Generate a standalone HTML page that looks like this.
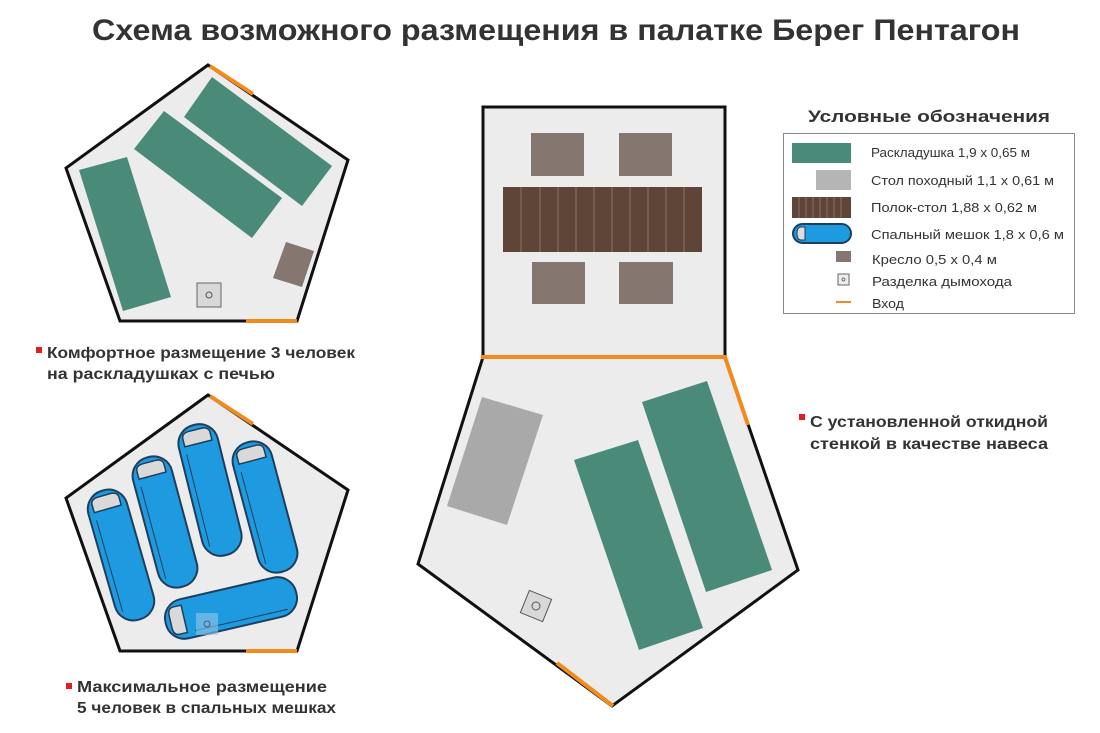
<!DOCTYPE html>
<html><head><meta charset="utf-8"><style>
html,body{margin:0;padding:0;background:#fff}
svg{display:block}
text{font-family:"Liberation Sans","DejaVu Sans",sans-serif;fill:#333}
.b{font-weight:bold}
</style></head><body>
<svg width="1100" height="733" viewBox="0 0 1100 733" xmlns="http://www.w3.org/2000/svg">
<defs>
<g id="bag">
<rect x="-20" y="-67" width="40" height="134" rx="19" fill="#1e9be0" stroke="#1d3f5c" stroke-width="2"/>
<path d="M-14,-48 L-14,-56 Q-14,-62 -6,-62 L6,-62 Q14,-62 14,-56 L14,-48 Z" fill="#d9d9d9" stroke="#1d3f5c" stroke-width="1.5"/>
<path d="M-14,-40 L-14,55" stroke="#1d3f5c" stroke-width="1" fill="none"/>
</g>
</defs>

<text x="556" y="40" class="b" font-size="30" text-anchor="middle" textLength="928" lengthAdjust="spacingAndGlyphs">Схема возможного размещения в палатке Берег Пентагон</text>

<!-- Top-left pentagon -->
<polygon points="208,65 348,160 297,321 120,321 66,168" fill="#ececec" stroke="#111" stroke-width="3" stroke-linejoin="miter"/>
<line x1="210" y1="66" x2="253" y2="94" stroke="#f28a1e" stroke-width="4"/>
<line x1="246" y1="321" x2="297" y2="321" stroke="#f28a1e" stroke-width="4"/>
<polygon points="212,77 332,166 302,206 184,117" fill="#4a8a78"/>
<polygon points="164,111 282,198 252,238 134,149" fill="#4a8a78"/>
<polygon points="79,170 127,157 171,297 123,311" fill="#4a8a78"/>
<polygon points="286,242 314,251 302,287 273,278" fill="#857670"/>
<rect x="197" y="283" width="24" height="24" fill="#d8d8d8" stroke="#666" stroke-width="1"/>
<circle cx="209" cy="295" r="3" fill="none" stroke="#555" stroke-width="1"/>

<rect x="36" y="347" width="6" height="6" fill="#e02020"/>
<text x="47" y="358" class="b" font-size="16" textLength="308" lengthAdjust="spacingAndGlyphs">Комфортное размещение 3 человек</text>
<text x="47" y="379" class="b" font-size="16" textLength="228" lengthAdjust="spacingAndGlyphs">на раскладушках с печью</text>

<!-- Bottom-left pentagon -->
<polygon points="208,395 348,490 297,651 120,651 66,498" fill="#ececec" stroke="#111" stroke-width="3"/>
<line x1="210" y1="396" x2="253" y2="424" stroke="#f28a1e" stroke-width="4"/>
<line x1="246" y1="651" x2="297" y2="651" stroke="#f28a1e" stroke-width="4"/>
<use href="#bag" transform="translate(121,555) rotate(-16)"/>
<use href="#bag" transform="translate(165,522) rotate(-15)"/>
<use href="#bag" transform="translate(210,490) rotate(-14)"/>
<use href="#bag" transform="translate(265,507) rotate(-15)"/>
<use href="#bag" transform="translate(231,608) rotate(-103)"/>
<rect x="196" y="613" width="22" height="22" fill="#8fc6e6" opacity="0.6"/>
<circle cx="207" cy="624" r="3" fill="none" stroke="#557" stroke-width="1"/>

<rect x="66" y="683" width="6" height="6" fill="#e02020"/>
<text x="77" y="692" class="b" font-size="16" textLength="250" lengthAdjust="spacingAndGlyphs">Максимальное размещение</text>
<text x="77" y="713" class="b" font-size="16" textLength="259" lengthAdjust="spacingAndGlyphs">5 человек в спальных мешках</text>

<!-- Center tent -->
<rect x="483" y="107" width="242" height="250" fill="#ececec" stroke="#111" stroke-width="3"/>
<rect x="531" y="133" width="53" height="43" fill="#857670"/>
<rect x="619" y="133" width="53" height="43" fill="#857670"/>
<rect x="532" y="262" width="53" height="42" fill="#857670"/>
<rect x="619" y="262" width="54" height="42" fill="#857670"/>
<rect x="503" y="187" width="199" height="65" fill="#5e4538"/>
<g stroke="#8a7066" stroke-width="1">
<line x1="521" y1="187" x2="521" y2="252"/><line x1="540" y1="187" x2="540" y2="252"/>
<line x1="558" y1="187" x2="558" y2="252"/><line x1="576" y1="187" x2="576" y2="252"/>
<line x1="594" y1="187" x2="594" y2="252"/><line x1="612" y1="187" x2="612" y2="252"/>
<line x1="630" y1="187" x2="630" y2="252"/><line x1="648" y1="187" x2="648" y2="252"/>
<line x1="666" y1="187" x2="666" y2="252"/><line x1="684" y1="187" x2="684" y2="252"/>
</g>
<polygon points="483,357 725,357 798,570 612,706 418,564" fill="#ececec" stroke="#111" stroke-width="3"/>
<line x1="481" y1="357" x2="727" y2="357" stroke="#f28a1e" stroke-width="4"/>
<line x1="725" y1="357" x2="748" y2="425" stroke="#f28a1e" stroke-width="4"/>
<line x1="557" y1="663" x2="613" y2="706" stroke="#f28a1e" stroke-width="4"/>
<polygon points="482,397 543,415 507,525 447,506" fill="#a9a9a9"/>
<polygon points="574,460 638,440 703,628 639,650" fill="#4a8a78"/>
<polygon points="642,402 707,381 772,570 706,592" fill="#4a8a78"/>
<rect x="524" y="594" width="24" height="24" fill="#d8d8d8" stroke="#555" stroke-width="1" transform="rotate(22 536 606)"/>
<circle cx="536" cy="606" r="4" fill="none" stroke="#555" stroke-width="1"/>

<rect x="799" y="414" width="6" height="6" fill="#e02020"/>
<text x="810" y="427" class="b" font-size="16" textLength="238" lengthAdjust="spacingAndGlyphs">С установленной откидной</text>
<text x="810" y="449" class="b" font-size="16" textLength="238" lengthAdjust="spacingAndGlyphs">стенкой в качестве навеса</text>

<!-- Legend -->
<text x="929" y="122" class="b" font-size="17" text-anchor="middle" textLength="242" lengthAdjust="spacingAndGlyphs">Условные обозначения</text>
<rect x="783.5" y="133.5" width="291" height="180" fill="#fff" stroke="#888" stroke-width="1"/>
<rect x="792" y="143" width="59" height="20" fill="#4a8a78"/>
<rect x="816" y="170" width="35" height="20" fill="#b5b5b5"/>
<rect x="792" y="197" width="59" height="21" fill="#5e4538"/>
<g stroke="#8a7066" stroke-width="1"><line x1="799" y1="197" x2="799" y2="218"/><line x1="806" y1="197" x2="806" y2="218"/><line x1="813" y1="197" x2="813" y2="218"/><line x1="820" y1="197" x2="820" y2="218"/><line x1="827" y1="197" x2="827" y2="218"/><line x1="834" y1="197" x2="834" y2="218"/><line x1="841" y1="197" x2="841" y2="218"/></g>
<rect x="793" y="224" width="58" height="19" rx="9.5" fill="#1e9be0" stroke="#1d3f5c" stroke-width="2"/>
<path d="M805,227 L801,227 Q797,227 797,233.5 Q797,240 801,240 L805,240 Z" fill="#ddd" stroke="#1d3f5c" stroke-width="1"/>
<rect x="836" y="251" width="15" height="11" fill="#857670"/>
<rect x="838" y="274" width="11" height="11" fill="#eee" stroke="#666" stroke-width="1"/>
<circle cx="843.5" cy="279.5" r="1.5" fill="none" stroke="#555" stroke-width="0.8"/>
<line x1="836" y1="302" x2="851" y2="302" stroke="#f28a1e" stroke-width="2"/>
<g font-size="13">
<text x="871" y="157" textLength="159" lengthAdjust="spacingAndGlyphs">Раскладушка 1,9 х 0,65 м</text>
<text x="871" y="185" textLength="183" lengthAdjust="spacingAndGlyphs">Стол походный 1,1 х 0,61 м</text>
<text x="871" y="212" textLength="166" lengthAdjust="spacingAndGlyphs">Полок-стол 1,88 х 0,62 м</text>
<text x="871" y="239" textLength="193" lengthAdjust="spacingAndGlyphs">Спальный мешок 1,8 х 0,6 м</text>
<text x="872" y="264" textLength="125" lengthAdjust="spacingAndGlyphs">Кресло 0,5 х 0,4 м</text>
<text x="872" y="286" textLength="140" lengthAdjust="spacingAndGlyphs">Разделка дымохода</text>
<text x="872" y="308" textLength="32" lengthAdjust="spacingAndGlyphs">Вход</text>
</g>
</svg>
</body></html>
